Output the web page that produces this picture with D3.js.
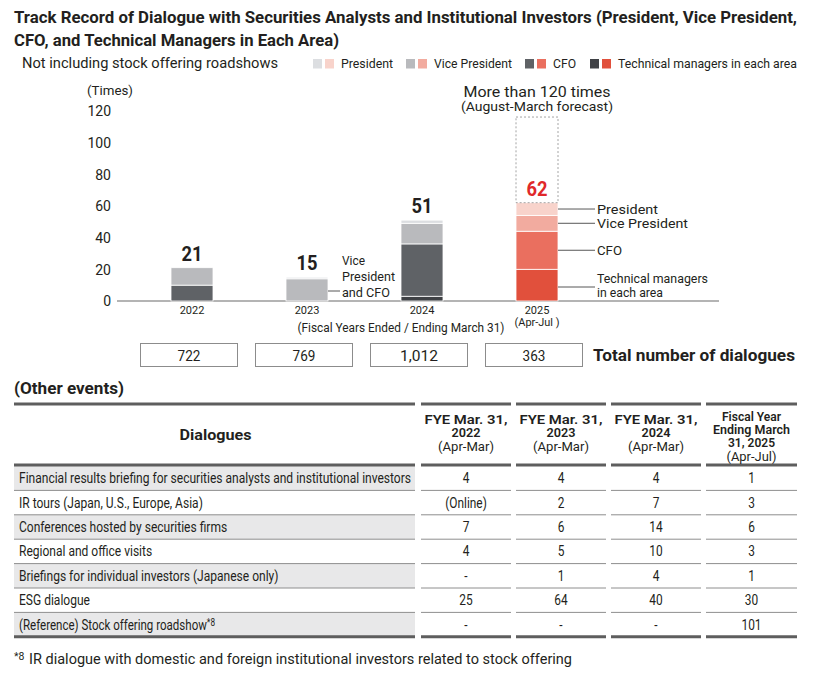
<!DOCTYPE html>
<html><head><meta charset="utf-8">
<script src="https://cdn.jsdelivr.net/npm/d3@7"></script>
<style>
body{margin:0;background:#fff}
svg{display:block}
text{font-family:Roboto,"Open Sans",sans-serif;fill:#231f20}
</style>
</head><body>
<svg id="c" width="815" height="678"></svg>
<script>
// ---------- data ----------
const years = ["2022","2023","2024","2025"];
const yearNotes = ["","","","(Apr-Jul )"];
const techManagers = [0,0,3,20];
const cfo = [10,0,33,24];
const vicePresident = [11,14,13,10];
const president = [0,1,2,8];
const totals = [21,15,51,62];
const forecastTop = 116;
const totalDialogues = ["722","769","1,012","363"];
const yTicks = [0,20,40,60,80,100,120];
const roleKeys = ["tech","cfo","vp","pres"];
const roleNames = ["Technical managers in each area","CFO","Vice President","President"];
const greyPalette = ["#3f4145","#5f6266","#b9babd","#dcdee1"];
const redPalette = ["#e1503c","#ea6f5f","#f2ab9f","#f8d3cb"];

const dialogueTypes = [
  "Financial results briefing for securities analysts and institutional investors",
  "IR tours (Japan, U.S., Europe, Asia)",
  "Conferences hosted by securities firms",
  "Regional and office visits",
  "Briefings for individual investors (Japanese only)",
  "ESG dialogue",
  "(Reference) Stock offering roadshow"
];
const fy2022 = ["4","(Online)","7","4","-","25","-"];
const fy2023 = ["4","2","6","5","1","64","-"];
const fy2024 = ["4","7","14","10","4","40","-"];
const fy2025 = ["1","3","6","3","1","30","101"];
const tableHeaders = [
  ["FYE Mar. 31,","2022","(Apr-Mar)"],
  ["FYE Mar. 31,","2023","(Apr-Mar)"],
  ["FYE Mar. 31,","2024","(Apr-Mar)"],
  ["Fiscal Year","Ending March","31, 2025","(Apr-Jul)"]
];

// ---------- helpers ----------
const svg = d3.select("#c");
function fit(sel, w){ sel.attr("textLength", w).attr("lengthAdjust","spacingAndGlyphs"); return sel; }
function squeeze(sel, k){ sel.each(function(){ const n=this.getComputedTextLength(); d3.select(this).attr("textLength", n*k).attr("lengthAdjust","spacingAndGlyphs"); }); return sel; }
function txt(x,y,s,size,opts={}){
  const t = svg.append("text").attr("x",x).attr("y",y).text(s).style("font-size",size+"px");
  if(opts.weight) t.style("font-weight",opts.weight);
  if(opts.anchor) t.attr("text-anchor",opts.anchor);
  if(opts.fill) t.style("fill",opts.fill);
  if(opts.w) fit(t,opts.w);
  return t;
}

// ---------- title / legend ----------
txt(14,23,"Track Record of Dialogue with Securities Analysts and Institutional Investors (President, Vice President,",17,{weight:700,w:783});
txt(14,46,"CFO, and Technical Managers in Each Area)",17,{weight:700,w:325});
txt(22,68,"Not including stock offering roadshows",14,{w:256});

const legendX = [313,406,525,590];
const legendW = [52,78,23,179];
[3,2,1,0].forEach((ri,i)=>{
  const x = legendX[i];
  svg.append("rect").attr("x",x).attr("y",59).attr("width",9).attr("height",9.5).attr("fill",greyPalette[ri]);
  svg.append("rect").attr("x",x+12).attr("y",59).attr("width",9).attr("height",9.5).attr("fill",redPalette[ri]);
  txt(x+28,68,roleNames[ri],13,{w:legendW[i]});
});

// ---------- chart ----------
const y = d3.scaleLinear().domain([0,120]).range([301,110.7]);
const x = d3.scalePoint().domain(years).range([192,537]);
const barW = 42;

txt(87,95,"(Times)",13,{w:46});
const yAxis = svg.append("g").attr("transform","translate(111,0)")
  .call(d3.axisLeft(y).tickValues(yTicks).tickSize(0).tickPadding(0));
yAxis.select(".domain").remove();
yAxis.selectAll("text").style("font-size","14px").style("font-family","Roboto,sans-serif").attr("fill","#231f20").attr("dy","0.35em");

svg.append("line").attr("x1",117).attr("x2",719).attr("y1",y(0)).attr("y2",y(0)).attr("stroke","#6b6b6b").attr("stroke-width",1.2);

const rows = years.map((yr,i)=>({year:yr, idx:i, tech:techManagers[i], cfo:cfo[i], vp:vicePresident[i], pres:president[i]}));
const stacked = d3.stack().keys(roleKeys)(rows);
stacked.forEach((layer,li)=>{
  svg.append("g").selectAll("rect").data(layer.filter(d=>d[1]-d[0]>0)).join("rect")
    .attr("x",d=>x(d.data.year)-barW/2)
    .attr("width",barW)
    .attr("y",d=>y(d[1]))
    .attr("height",d=>y(d[0])-y(d[1]))
    .attr("fill",d=>d.data.year==="2025"?redPalette[li]:greyPalette[li])
    .attr("stroke","#fff").attr("stroke-width",0.8);
});

// forecast dashed box
const lastYear = years[3];
svg.append("rect").attr("x",x(lastYear)-barW/2).attr("width",barW)
  .attr("y",y(forecastTop)).attr("height",y(totals[3])-y(forecastTop))
  .attr("fill","none").attr("stroke","#9a9a9a").attr("stroke-dasharray","2,2").attr("stroke-width",0.9);

// value labels
years.forEach((yr,i)=>{
  txt(x(yr), y(totals[i])-7, totals[i], 20, {weight:700,anchor:"middle",fill: i===3?"#e0282a":"#231f20", w: String(totals[i]).length*10.5});
  txt(x(yr), 314, yr, 11, {anchor:"middle"});
  if(yearNotes[i]) txt(x(yr), 326, yearNotes[i], 11, {anchor:"middle", w:45});
});
txt(401,332,"(Fiscal Years Ended / Ending March 31)",12.5,{anchor:"middle",w:207});

txt(x(lastYear),97,"More than 120 times",15,{anchor:"middle",w:147});
txt(x(lastYear),111,"(August-March forecast)",13,{anchor:"middle",w:152});

// 2025 role annotations
const lastStack = stacked.map(l=>l[3]);
const annW = [[111,66],[25],[91],[61]];
const annLabels = [["Technical managers","in each area"],["CFO"],["Vice President"],["President"]];
[3,2,1,0].forEach(li=>{
  const d = lastStack[li];
  let mid = (y(d[0])+y(d[1]))/2;
  if(li===0) mid = y(d[0]) - 14;
  svg.append("line").attr("x1",x(lastYear)+barW/2).attr("x2",595).attr("y1",mid).attr("y2",mid).attr("stroke","#444").attr("stroke-width",0.9);
  const lab = annLabels[li];
  if(lab.length===1){
    txt(597, mid+4.5, lab[0], 13, {w:annW[li][0]});
  } else {
    txt(597, mid-4, lab[0], 13, {w:annW[li][0]});
    txt(597, mid+10, lab[1], 13, {w:annW[li][1]});
  }
});

// 2023 annotation
const y23 = years[1];
svg.append("line").attr("x1",x(y23)+barW/2).attr("x2",340).attr("y1",291).attr("y2",291).attr("stroke","#444").attr("stroke-width",0.9);
txt(342,265,"Vice",13,{w:23});
txt(342,281,"President",13,{w:53});
txt(342,297,"and CFO",13,{w:48});

// totals boxes
years.forEach((yr,i)=>{
  const cx = x(yr)-3;
  svg.append("rect").attr("x",cx-48.5).attr("y",343.5).attr("width",97).attr("height",23).attr("fill","#fff").attr("stroke","#8c8c8c").attr("stroke-width",1);
  txt(cx,360.5,totalDialogues[i],15,{anchor:"middle",w:totalDialogues[i].length*7.6});
});
txt(593,361,"Total number of dialogues",16,{weight:700,w:202});

// ---------- table ----------
txt(14,394,"(Other events)",16,{weight:700,w:110});
const cols = [[14,415],[421,511],[516,606],[611,701],[706,797]];
const rowTop = 466, rowH = 24.4;
const topY = 404, headBottom = 465;
const bottomY = rowTop + rowH*dialogueTypes.length;

dialogueTypes.forEach((d,i)=>{
  if(i%2===0) svg.append("rect").attr("x",cols[0][0]).attr("y",rowTop+i*rowH).attr("width",cols[0][1]-cols[0][0]).attr("height",rowH).attr("fill","#e8e8e9");
});
for(let i=1;i<dialogueTypes.length;i++){
  cols.forEach(c=>svg.append("line").attr("x1",c[0]).attr("x2",c[1]).attr("y1",rowTop+i*rowH).attr("y2",rowTop+i*rowH).attr("stroke","#8e8e8e").attr("stroke-width",1));
}
[topY,headBottom,bottomY].forEach(yy=>{
  cols.forEach(c=>svg.append("line").attr("x1",c[0]).attr("x2",c[1]).attr("y1",yy).attr("y2",yy).attr("stroke","#5e5e5e").attr("stroke-width",3));
});

txt((cols[0][0]+cols[0][1])/2+1,440,"Dialogues",15,{weight:700,anchor:"middle",w:72});
tableHeaders.forEach((h,j)=>{
  const cx = (cols[j+1][0]+cols[j+1][1])/2;
  if(h.length===3){
    txt(cx,424,h[0],12.5,{weight:600,anchor:"middle",w:83});
    txt(cx,437,h[1],12.5,{weight:600,anchor:"middle",w:29});
    txt(cx,451,h[2],12.5,{anchor:"middle",w:56});
  } else {
    txt(cx,421,h[0],12.5,{weight:600,anchor:"middle",w:59});
    txt(cx,434,h[1],12.5,{weight:600,anchor:"middle",w:77});
    txt(cx,447,h[2],12.5,{weight:600,anchor:"middle",w:47});
    txt(cx,461,h[3],12.5,{anchor:"middle",w:50});
  }
});

const labelTexts = dialogueTypes.map((d,i)=>txt(19,rowTop+i*rowH+rowH/2+5,d,14));
const kFirst = 392 / labelTexts[0].node().getComputedTextLength();
labelTexts.forEach(t=>squeeze(t,kFirst));
const lastLabel = labelTexts[dialogueTypes.length-1];
lastLabel.append("tspan").attr("dy",-4).style("font-size","10px").text("*8");

[fy2022,fy2023,fy2024,fy2025].forEach((vals,j)=>{
  const cx = (cols[j+1][0]+cols[j+1][1])/2;
  vals.forEach((v,i)=>{
    const t = txt(cx,rowTop+i*rowH+rowH/2+5,v,14,{anchor:"middle"});
    squeeze(t,0.85);
  });
});

// footnote
txt(14,660,"*8",10.5);
txt(29,664,"IR dialogue with domestic and foreign institutional investors related to stock offering",14,{w:543});
</script>
</body></html>
